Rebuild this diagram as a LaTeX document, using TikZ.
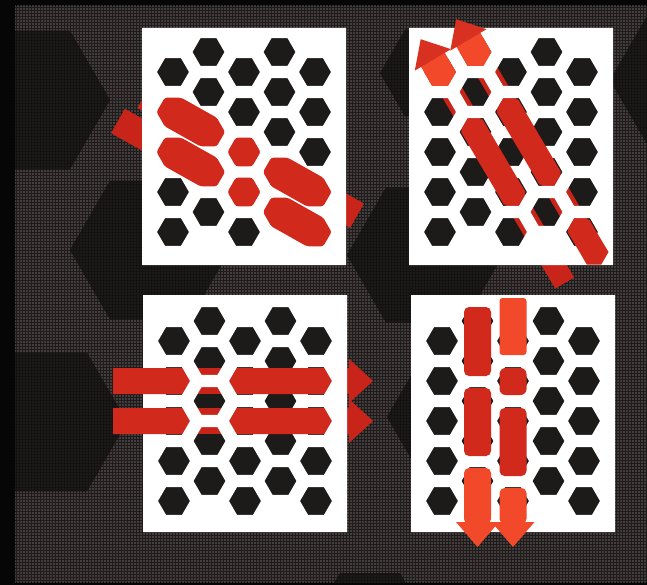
\documentclass[tikz,border=0pt]{standalone}
\usetikzlibrary{calc,patterns}
\definecolor{framec}{HTML}{070606}
\definecolor{bgtex}{HTML}{1F1B1B}
\definecolor{dotc}{HTML}{6A6161}
\definecolor{bghex}{HTML}{141111}
\definecolor{dotdark}{HTML}{2A2424}
\definecolor{holecol}{HTML}{1D1A1A}
\definecolor{redfg}{HTML}{D2291D}
\definecolor{redbg}{HTML}{C9241A}
\definecolor{orng}{HTML}{F1492A}
\definecolor{headred}{HTML}{D93121}
\pgfdeclarepatternformonly{perf}{\pgfqpoint{-1.5pt}{-1.5pt}}{\pgfqpoint{1.5pt}{1.5pt}}{\pgfqpoint{3pt}{3pt}}{\pgfpathcircle{\pgfqpoint{0pt}{0pt}}{0.9pt}\pgfusepath{fill}}
\newcommand{\hx}[3]{({(#1)+(#3)},{#2}) -- ++(120:#3) -- ++(180:#3) -- ++(240:#3) -- ++(300:#3) -- ++(0:#3) -- cycle}
\newcommand{\capsule}[6]{($(#1,#2)+(#5:#6)$) -- ($(#1,#2)+({#5+60}:#6)$) -- ($(#1,#2)+({#5+120}:#6)$) -- ($(#1,#2)+({#5+180}:#6)$) -- ($(#3,#4)+({#5+180}:#6)$) -- ($(#3,#4)+({#5+240}:#6)$) -- ($(#3,#4)+({#5+300}:#6)$) -- ($(#3,#4)+({#5+360}:#6)$) -- cycle}
\newcommand{\plate}[4]{%
  \fill[white, even odd rule] (#1,#2) rectangle ({#1+204},{#2+237})
    \foreach \c in {0,2,4} {\foreach \k in {0,...,4} { \hx{#1+31+35.5*\c}{#2+#3+40*\k}{16} }}
    \foreach \c in {1,3} {\foreach \k in {0,...,4} { \hx{#1+31+35.5*\c}{#2+#4+40*\k}{16} }};
}
\newcommand{\bighex}[3]{%
  \fill[bghex] \hx{#1}{#2}{#3};
  \fill[pattern=perf, pattern color=dotdark] \hx{#1}{#2}{#3};
}
\tikzset{bgbar/.style={draw=redbg, line cap=butt}}
\begin{document}
\begin{tikzpicture}[x=1pt,y=-1pt]
\useasboundingbox (0,0) rectangle (647,585);
\fill[framec] (0,0) rectangle (647,585);
\begin{scope}
  \clip (15,6) rectangle (647,582);
  \fill[bgtex] (15,6) rectangle (647,582);
  \fill[pattern=perf, pattern color=dotc] (15,6) rectangle (647,582);
  \bighex{30}{100}{80}
  \bighex{150}{250}{80}
  \bighex{47}{422}{80}
  \bighex{430}{73}{50}
  \bighex{425}{255}{78}
  \bighex{452}{417}{65}
  \bighex{690}{80}{80}
  \bighex{370}{625}{60}
\end{scope}
% dark underlay of the plates (seen through holes)
\fill[holecol] (142,28) rectangle (346,265);
\fill[holecol] (409,28) rectangle (613,265);
\fill[holecol] (143,295) rectangle (347,532);
\fill[holecol] (411,295) rectangle (615,532);
% background bars
\draw[bgbar, line width=28pt] (144.3,95.8) -- (357,215.7);
\draw[bgbar, line width=28pt] (118,121) -- (330,240.5);
\draw[bgbar, line width=22pt] (432.9,59.9) -- (564.7,283);
\draw[bgbar, line width=22pt] (468.4,39.9) -- (597.2,257.8);
\draw[bgbar, line width=26pt] (113,381) -- (350,381);
\draw[bgbar, line width=26pt] (113,421) -- (350,421);
\fill[redbg] (349,359) -- (373,381) -- (349,403) -- cycle;
\fill[redbg] (349,399) -- (373,421) -- (349,443) -- cycle;
% plates
\plate{142}{28}{44}{24}
\plate{409}{28}{44}{24}
\plate{143}{295}{46}{26}
\plate{411}{295}{46}{26}
% panel 1 foreground
\fill[redfg, rounded corners=2pt] \capsule{173}{112}{208.5}{132}{120}{16.5};
\fill[redfg, rounded corners=2pt] \hx{244}{152}{16.5};
\fill[redfg, rounded corners=2pt] \capsule{279.5}{172}{315}{192}{120}{16.5};
\fill[redfg, rounded corners=2pt] \capsule{173}{152}{208.5}{172}{120}{16.5};
\fill[redfg, rounded corners=2pt] \hx{244}{192}{16.5};
\fill[redfg, rounded corners=2pt] \capsule{279.5}{212}{315}{232}{120}{16.5};
% panel 2 foreground
\fill[redfg] \capsule{475.5}{132}{511}{192}{180}{14.5};
\fill[redfg] \capsule{511}{112}{546.5}{172}{180}{14.5};
\fill[redfg] \capsule{582}{232}{594}{252}{180}{14.5};
\fill[orng] \capsule{433}{60}{440}{72}{180}{16};
\fill[orng] \capsule{468.5}{40}{475.5}{52}{180}{16};
\fill[headred] (451,49.2) -- (414.8,70.6) -- (420.7,39.2) -- cycle;
\fill[headred] (486.5,29.2) -- (450.3,50.6) -- (456.2,19.2) -- cycle;
% panel 3 foreground
\fill[redfg] (113,368) -- (181.5,368) -- (189,381) -- (181.5,394) -- (113,394) -- cycle;
\fill[redfg] (230,381) -- (237.5,368) -- (323.5,368) -- (331,381) -- (323.5,394) -- (237.5,394) -- cycle;
\fill[redfg] (113,408) -- (181.5,408) -- (189,421) -- (181.5,434) -- (113,434) -- cycle;
\fill[redfg] (230,421) -- (237.5,408) -- (323.5,408) -- (331,421) -- (323.5,434) -- (237.5,434) -- cycle;
% panel 4 foreground
\fill[orng, rounded corners=3pt] (499.5,298) rectangle (526.5,355);
\fill[redfg, rounded corners=6pt] (499.5,368) rectangle (526.5,395);
\fill[redfg, rounded corners=5pt] (499.5,408) rectangle (526.5,476);
\fill[orng, rounded corners=5pt] (499.5,488) rectangle (526.5,524);
\fill[orng] (491.5,522) -- (534.5,522) -- (513,547) -- cycle;
\fill[redfg, rounded corners=5pt] (464,307) rectangle (491,376);
\fill[redfg, rounded corners=5pt] (464,388) rectangle (491,456);
\fill[orng, rounded corners=5pt] (464,468) rectangle (491,524);
\fill[orng] (456,522) -- (499,522) -- (477.5,547) -- cycle;
\end{tikzpicture}
\end{document}
